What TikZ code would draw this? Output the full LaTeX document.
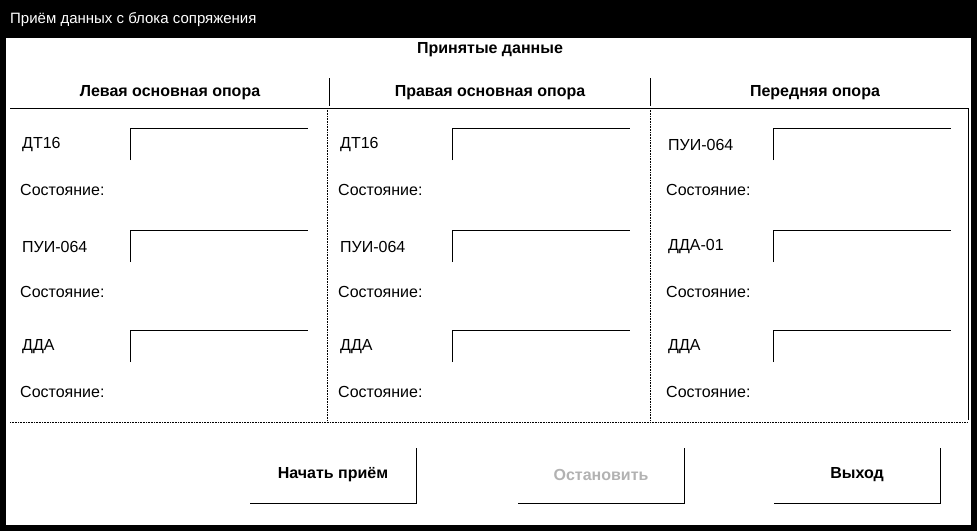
\documentclass[tikz,border=0pt]{standalone}
\usepackage{fontspec}
\setmainfont{Liberation Sans}
\usetikzlibrary{positioning}
\begin{document}
\begin{tikzpicture}
	[x=1pt, y=-1pt,
	lbl/.style = {anchor=west, inner sep=0pt, font=\fontsize{16}{16}\selectfont},
	hdr/.style = {inner sep=0pt, font=\fontsize{16}{16}\selectfont\bfseries},
	fld/.style = {draw=black, line width=1pt},
	sep/.style = {draw=black, line width=0.6pt, densely dotted}]

	\useasboundingbox (0,0) rectangle (977,531);
	% window frame and title bar
	\fill[black] (0,0) rectangle (977,38);
	\draw[line width=6pt] (3,0) -- (3,528) -- (974,528) -- (974,0);
	\node[anchor=west, text=white, inner sep=0pt, font=\fontsize{15}{15}\selectfont] (title) at (10,20) {Приём данных с блока сопряжения};

	\node[hdr] (recv) at (490,50) {Принятые данные};
	\foreach \x/\alph/\name in {
		170/hL/Левая основная опора,
		490/hR/Правая основная опора,
		815/hF/Передняя опора}{
		\node[hdr] (\alph) at (\x,93) {\name};
	}
	\draw (329,78) -- (329,106);
	\draw (650,78) -- (650,106);
	\draw[line width=0.8pt] (10,108) -- (968,108) -- (968,420);
	\draw[sep] (10,422) -- (968,422);
	\draw[sep] (327,108) -- (327,422);
	\draw[sep] (650,108) -- (650,422);

	% fields
	\foreach \x/\bx/\a/\b/\c in {
		22/130/ДТ16/ПУИ-064/ДДА,
		340/452/ДТ16/ПУИ-064/ДДА,
		668/773/ПУИ-064/ДДА-01/ДДА}{
		\foreach \y/\t in {128/\a, 230/\b, 330/\c}{
			\node[lbl] at (\x,\y+17) {\t};
			\draw[fld] (\bx,\y+32) -- (\bx,\y) -- (\bx+178,\y);
			\node[lbl] at (\x-2,\y+62) {Состояние:};
		}
	}

	% buttons
	\foreach \x/\alph/\name/\col in {
		250/bStart/Начать приём/black,
		518/bStop/Остановить/black!30,
		774/bExit/Выход/black}{
		\node[hdr, text=\col] (\alph) at (\x+83,475) {\name};
		\draw[fld] (\x,503) -- (\x+166,503) -- (\x+166,448);
	}
\end{tikzpicture}
\end{document}
